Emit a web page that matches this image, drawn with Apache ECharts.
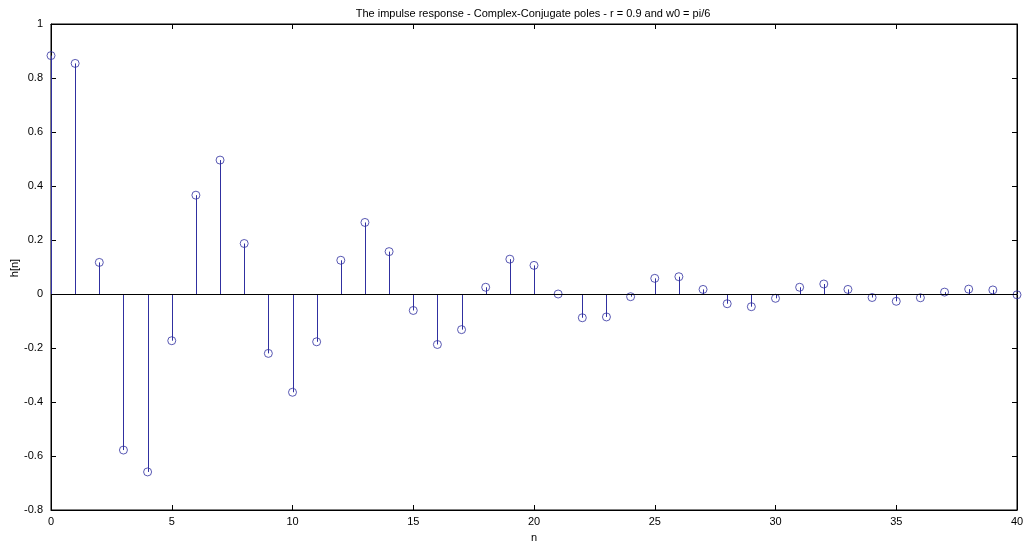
<!DOCTYPE html>
<html>
<head>
<meta charset="utf-8">
<script src="https://cdn.jsdelivr.net/npm/echarts@6/dist/echarts.min.js"></script>
<style>
html,body{margin:0;padding:0;background:#fff;}
#chart{width:1024px;height:545px;}
</style>
</head>
<body>
<div id="chart"></div>
<script>
const titleText = 'The impulse response - Complex-Conjugate poles - r = 0.9 and w0 = pi/6';
const xLabel = 'n';
const yLabel = 'h[n]';
const nValues = [0,1,2,3,4,5,6,7,8,9,10,11,12,13,14,15,16,17,18,19,20,21,22,23,24,25,26,27,28,29,30,31,32,33,34,35,36,37,38,39,40];
const hValues = [0.883,0.854,0.117,-0.578,-0.659,-0.173,0.366,0.496,0.187,-0.220,-0.364,-0.177,0.125,0.265,0.157,-0.061,-0.187,-0.132,0.025,0.129,0.106,0.000,-0.088,-0.085,-0.010,0.058,0.064,0.017,-0.036,-0.047,-0.016,0.025,0.037,0.017,-0.013,-0.027,-0.014,0.007,0.018,0.015,-0.003];

const points = nValues.map((n, i) => [n, hValues[i]]);
const stemColor = '#3030a0';
const font = 'Liberation Sans, Arial, sans-serif';

const chart = echarts.init(document.getElementById('chart'), null, {renderer: 'canvas'});
const tickCommon = {show: true, inside: true, length: 5, lineStyle: {color: '#000', width: 1}};
chart.setOption({
  backgroundColor: '#fff',
  animation: false,
  title: {
    text: titleText,
    left: 528, top: 3, textAlign: 'center',
    textStyle: {fontFamily: font, fontSize: 11, fontWeight: 'normal', color: '#000'}
  },
  graphic: [{
    type: 'text',
    x: 15, y: 268, rotation: Math.PI / 2,
    style: {text: yLabel, font: '11px ' + font, fill: '#000', align: 'center', verticalAlign: 'middle'},
    silent: true
  }],
  grid: {left: 51, right: 7, top: 24, bottom: 35, show: true, borderColor: '#000', borderWidth: 1,
         backgroundColor: '#fff', containLabel: false, outerBoundsMode: 'none'},
  xAxis: [
    {type: 'value', min: 0, max: 40, interval: 5, position: 'bottom',
     name: xLabel, nameLocation: 'middle', nameGap: 22,
     nameTextStyle: {fontFamily: font, fontSize: 11, color: '#000'},
     axisLine: {show: true, onZero: false, lineStyle: {color: '#000'}},
     axisTick: tickCommon,
     axisLabel: {fontFamily: font, fontSize: 11, color: '#000', margin: 6},
     splitLine: {show: false}},
    {type: 'value', min: 0, max: 40, interval: 5, position: 'top',
     axisLine: {show: true, onZero: false, lineStyle: {color: '#000'}},
     axisTick: tickCommon, axisLabel: {show: false}, splitLine: {show: false}}
  ],
  yAxis: [
    {type: 'value', min: -0.8, max: 1, interval: 0.2, position: 'left',
     axisLine: {show: true, onZero: false, lineStyle: {color: '#000'}},
     axisTick: tickCommon,
     axisLabel: {fontFamily: font, fontSize: 11, color: '#000', margin: 8,
       formatter: v => String(Math.round(v * 10) / 10)},
     splitLine: {show: false}},
    {type: 'value', min: -0.8, max: 1, interval: 0.2, position: 'right',
     axisLine: {show: true, onZero: false, lineStyle: {color: '#000'}},
     axisTick: tickCommon, axisLabel: {show: false}, splitLine: {show: false}}
  ],
  series: [
    {
      type: 'custom',
      xAxisIndex: 0, yAxisIndex: 0,
      data: points,
      silent: true,
      z: 2,
      renderItem: function (params, api) {
        const top = api.coord([api.value(0), api.value(1)]);
        const base = api.coord([api.value(0), 0]);
        const x = Math.round(base[0]) + 0.5;
        return {
          type: 'line',
          shape: {x1: x, y1: base[1], x2: x, y2: top[1]},
          style: {stroke: stemColor, lineWidth: 1}
        };
      },
      markLine: {
        silent: true, symbol: 'none', label: {show: false},
        lineStyle: {color: '#000', width: 1, type: 'solid'},
        data: [{yAxis: 0}]
      }
    },
    {
      type: 'scatter',
      xAxisIndex: 0, yAxisIndex: 0,
      data: points,
      symbol: 'circle',
      symbolSize: 8,
      itemStyle: {color: 'rgba(255,255,255,0)', borderColor: stemColor, borderWidth: 1},
      z: 3,
      silent: true
    }
  ]
});
</script>
</body>
</html>
